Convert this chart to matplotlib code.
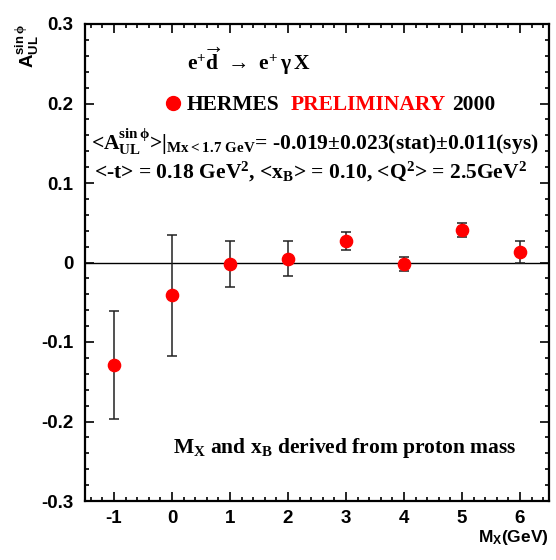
import matplotlib
matplotlib.use("Agg")
import matplotlib.pyplot as plt
from matplotlib.ticker import MultipleLocator, FixedLocator, FixedFormatter

# ---- data ----
mx = [-1, 0, 1, 2, 3, 4, 5, 6]
asym = [-0.129, -0.041, -0.002, 0.005, 0.027, -0.002, 0.041, 0.013]
asym_err = [0.068, 0.076, 0.029, 0.0215, 0.011, 0.0085, 0.0085, 0.0135]

xticks = [-1, 0, 1, 2, 3, 4, 5, 6]
xticklabels = ["-1", "0", "1", "2", "3", "4", "5", "6"]
yticks = [-0.3, -0.2, -0.1, 0.0, 0.1, 0.2, 0.3]
yticklabels = ["-0.3", "-0.2", "-0.1", "0", "0.1", "0.2", "0.3"]

plt.rcParams['mathtext.fontset'] = 'custom'
plt.rcParams['mathtext.rm'] = 'Liberation Serif:bold'
plt.rcParams['mathtext.it'] = 'Liberation Serif:bold'
plt.rcParams['mathtext.bf'] = 'Liberation Serif:bold'
plt.rcParams['mathtext.sf'] = 'Liberation Sans:bold'

W, H = 556, 560
fig = plt.figure(figsize=(W / 100, H / 100), dpi=100)
ax = fig.add_axes([85 / W, 1 - 501 / H, 464 / W, 477 / H])

RED = '#ff0000'
ax.axhline(0, color='black', lw=1.0, zorder=1)
ax.errorbar(mx, asym, yerr=asym_err, fmt='o', color=RED, ms=8.8,
            ecolor='#222222', elinewidth=1.1, capsize=3.8, capthick=1.1, zorder=3)

ax.set_xlim(-1.5, 6.5)
ax.set_ylim(-0.3, 0.3)
ax.xaxis.set_major_locator(FixedLocator(xticks))
ax.xaxis.set_major_formatter(FixedFormatter(xticklabels))
ax.xaxis.set_minor_locator(MultipleLocator(0.2))
ax.yaxis.set_major_locator(FixedLocator(yticks))
ax.yaxis.set_major_formatter(FixedFormatter(yticklabels))
ax.yaxis.set_minor_locator(MultipleLocator(0.02))

for sp in ax.spines.values():
    sp.set_linewidth(1.6)
ax.tick_params(which='both', direction='in', top=True, right=True, width=1.2)
ax.tick_params(which='major', length=6.5)
ax.tick_params(which='minor', length=3.2)
ax.tick_params(axis='y', which='major', pad=8.5)
ax.tick_params(axis='x', which='major', pad=6.5)
for lab in ax.get_xticklabels() + ax.get_yticklabels():
    lab.set_fontfamily('Liberation Sans')
    lab.set_fontweight('bold')
    lab.set_fontsize(13.5)

def fx(px):
    return px / W

def fy(py):
    return 1 - py / H

serif = dict(family='Liberation Serif', weight='bold', fontsize=15.5, va='baseline', ha='left')

fig.text(fx(187), fy(70), r"e$^{+}\overrightarrow{\mathrm{d}}\ \rightarrow\ $e$^{+}\,\gamma\,$X", **serif)

ax.plot([0.189], [0.834], 'o', color=RED, ms=10, transform=ax.transAxes, clip_on=False)
fig.text(fx(187), fy(110), "HERMES", **serif)
fig.text(fx(291), fy(110), "PRELIMINARY", color=RED, **serif)
fig.text(fx(452), fy(110), "2000", **serif)

fig.text(fx(91), fy(150),
         r"<A$_{\mathrm{UL}}^{\mathrm{sin}\,\phi}$>|$_{\mathrm{Mx< 1.7\ GeV}}$= -0.019±0.023(stat)±0.011(sys)",
         **serif)
fig.text(fx(94), fy(178),
         r"<-t> = 0.18 GeV$^{2}$, <x$_{\mathrm{B}}$> = 0.10, <Q$^{2}$> = 2.5GeV$^{2}$",
         **serif)
fig.text(fx(173), fy(453),
         r"M$_{\mathrm{X}}$ and x$_{\mathrm{B}}$ derived from proton mass", **serif)

sans = dict(family='Liberation Sans', weight='bold', fontsize=13.5)
fig.text(fx(27), fy(24), r"A$_{\mathsf{UL}}^{\mathsf{sin}\,\phi}$", rotation=90,
         ha='center', va='top', **sans)
fig.text(fx(549), fy(542), r"M$_{\mathsf{X}}$(GeV)", ha='right', va='baseline',
         family='Liberation Sans', weight='bold', fontsize=12.5)

fig.savefig("out.png", dpi=100)
